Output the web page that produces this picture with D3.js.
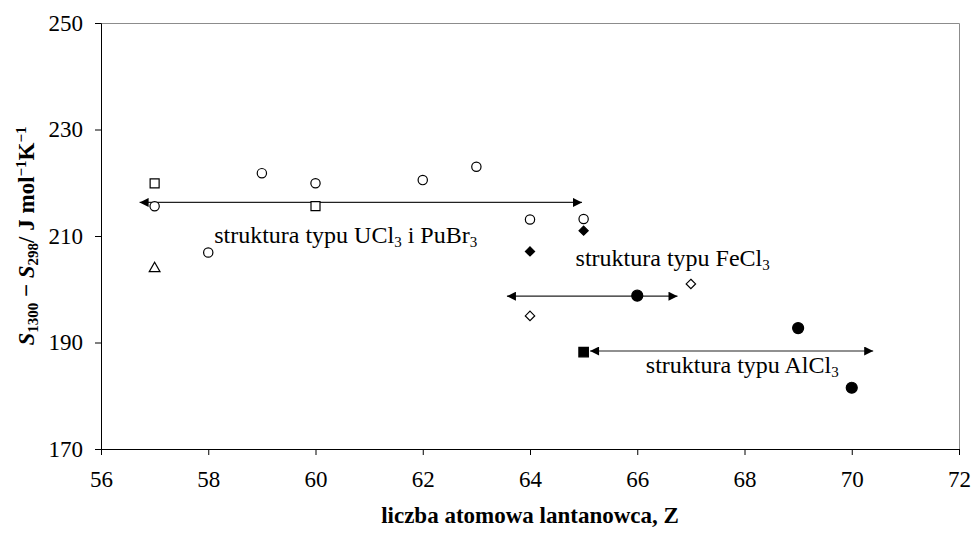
<!DOCTYPE html>
<html>
<head>
<meta charset="utf-8">
<script src="https://cdn.jsdelivr.net/npm/d3@7"></script>
<style>
  body { margin: 0; background: #fff; }
  svg { display: block; font-family: "Liberation Serif", "Times New Roman", serif; }
</style>
</head>
<body>
<svg width="972" height="534"></svg>
<script>
// series (Z, S1300 - S298)
var openCircleZ = [57, 58, 59, 60, 62, 63, 64, 65]
var openCircleS = [215.6, 206.9, 221.8, 219.9, 220.5, 223.0, 213.1, 213.2]
var openSquareZ = [57, 60]
var openSquareS = [219.9, 215.6]
var openTriangleZ = [57]
var openTriangleS = [203.9]
var filledDiamondZ = [64, 65]
var filledDiamondS = [207.1, 211.0]
var openDiamondZ = [64, 67]
var openDiamondS = [195.0, 201.0]
var filledCircleZ = [66, 69, 70]
var filledCircleS = [198.8, 192.7, 181.5]
var filledSquareZ = [65]
var filledSquareS = [188.2]

// double arrows marking structure ranges
var arrowFrom = [56.72, 63.57, 65.12]
var arrowTo = [64.97, 66.75, 70.40]
var arrowS = [216.3, 198.7, 188.4]

// structure labels: main text, subscripted pieces
var labelParts = [
  [["struktura typu UCl", ""], ["3", "sub"], [" i PuBr", ""], ["3", "sub"]],
  [["struktura typu FeCl", ""], ["3", "sub"]],
  [["struktura typu AlCl", ""], ["3", "sub"]]
]
var labelZ = [58.11, 64.85, 66.16]
var labelS = [208.7, 204.4, 184.2]

var xTicks = [56, 58, 60, 62, 64, 66, 68, 70, 72]
var yTicks = [170, 190, 210, 230, 250]
var xTitle = "liczba atomowa lantanowca, Z"

function main() {
  var svg = d3.select("svg")
  var margin = {top: 23, right: 13, bottom: 85, left: 101}
  var width = +svg.attr("width") - margin.left - margin.right
  var height = +svg.attr("height") - margin.top - margin.bottom

  var x = d3.scaleLinear().domain([56, 72]).range([0, width])
  var y = d3.scaleLinear().domain([170, 250]).range([height, 0])

  var canvas = svg.append("g")
    .attr("transform", "translate(" + margin.left + "," + margin.top + ")")

  // grey frame on top and right
  canvas.append("path")
    .attr("d", "M0.5,0.5H" + (width + 0.5) + "V" + height)
    .attr("fill", "none").attr("stroke", "#8c8c8c").attr("stroke-width", 1)

  var xAxis = d3.axisBottom(x).tickValues(xTicks).tickSize(6).tickPadding(16)
  var yAxis = d3.axisLeft(y).tickValues(yTicks).tickSize(6).tickPadding(12)

  var gx = canvas.append("g").attr("transform", "translate(0," + height + ")").call(xAxis)
  var gy = canvas.append("g").call(yAxis)
  ;[gx, gy].forEach(function(g) {
    g.select(".domain").attr("stroke", "#000")
    g.selectAll(".tick line").attr("stroke", "#000")
    g.selectAll(".tick text")
      .attr("font-family", "Liberation Serif, Times New Roman, serif")
      .attr("font-size", 23).attr("fill", "#000")
  })

  // arrowheads
  var defs = svg.append("defs")
  ;["start", "end"].forEach(function(k) {
    defs.append("marker")
      .attr("id", "arr-" + k)
      .attr("viewBox", "0 0 10 10")
      .attr("refX", 10).attr("refY", 5)
      .attr("markerWidth", 11).attr("markerHeight", 9)
      .attr("markerUnits", "userSpaceOnUse")
      .attr("orient", k == "start" ? "auto-start-reverse" : "auto")
      .append("path").attr("d", "M0,0L10,5L0,10Z").attr("fill", "#000")
  })

  canvas.selectAll(".arrow").data(arrowS).enter().append("line")
    .attr("class", "arrow")
    .attr("x1", (d, i) => x(arrowFrom[i]))
    .attr("x2", (d, i) => x(arrowTo[i]))
    .attr("y1", d => y(d))
    .attr("y2", d => y(d))
    .attr("stroke", "#222").attr("stroke-width", 1.2)
    .attr("marker-start", "url(#arr-start)")
    .attr("marker-end", "url(#arr-end)")

  // markers
  var diamond = {
    draw: function(ctx, size) {
      var r = Math.sqrt(size / 2)
      ctx.moveTo(0, -r); ctx.lineTo(r, 0); ctx.lineTo(0, r); ctx.lineTo(-r, 0); ctx.closePath()
    }
  }
  var series = [
    {z: openCircleZ, s: openCircleS, type: d3.symbolCircle, size: 68, fill: "#fff"},
    {z: openSquareZ, s: openSquareS, type: d3.symbolSquare, size: 81, fill: "#fff"},
    {z: openTriangleZ, s: openTriangleS, type: d3.symbolTriangle, size: 50, fill: "#fff"},
    {z: openDiamondZ, s: openDiamondS, type: diamond, size: 44, fill: "#fff"},
    {z: filledDiamondZ, s: filledDiamondS, type: diamond, size: 42, fill: "#000"},
    {z: filledCircleZ, s: filledCircleS, type: d3.symbolCircle, size: 95, fill: "#000"},
    {z: filledSquareZ, s: filledSquareS, type: d3.symbolSquare, size: 90, fill: "#000"}
  ]
  series.forEach(function(ser) {
    canvas.append("g").selectAll("path").data(ser.s).enter().append("path")
      .attr("d", d3.symbol().type(ser.type).size(ser.size))
      .attr("transform", (d, i) => "translate(" + x(ser.z[i]) + "," + y(d) + ")")
      .attr("fill", ser.fill)
      .attr("stroke", "#000").attr("stroke-width", 1.2)
  })

  // structure labels
  labelParts.forEach(function(parts, i) {
    var t = canvas.append("text")
      .attr("x", x(labelZ[i])).attr("y", y(labelS[i]))
      .attr("font-size", 24).attr("fill", "#000")
    parts.forEach(function(p) {
      var ts = t.append("tspan").text(p[0])
      if (p[1] == "sub") ts.attr("font-size", 15).attr("baseline-shift", "-4")
    })
  })

  // axis titles
  svg.append("text")
    .attr("x", margin.left + width / 2).attr("y", 523)
    .attr("text-anchor", "middle")
    .attr("font-size", 23).attr("font-weight", "bold")
    .text(xTitle)

  var yt = svg.append("text")
    .attr("transform", "translate(34,236) rotate(-90)")
    .attr("text-anchor", "middle")
    .attr("font-size", 23).attr("font-weight", "bold")
  var yParts = [["S", "i"], ["1300", "sub"], [" \u2212 ", ""], ["S", "i"], ["298", "sub"],
    ["/ J mol", ""], ["\u22121", "sup"], ["K", ""], ["\u22121", "sup"]]
  yParts.forEach(function(p) {
    var ts = yt.append("tspan").text(p[0])
    if (p[1] == "i") ts.attr("font-style", "italic")
    if (p[1] == "sub") ts.attr("font-size", 15).attr("baseline-shift", "-4")
    if (p[1] == "sup") ts.attr("font-size", 15).attr("baseline-shift", "8")
  })
}

window.onload = function() {
  main()
}
</script>
</body>
</html>
